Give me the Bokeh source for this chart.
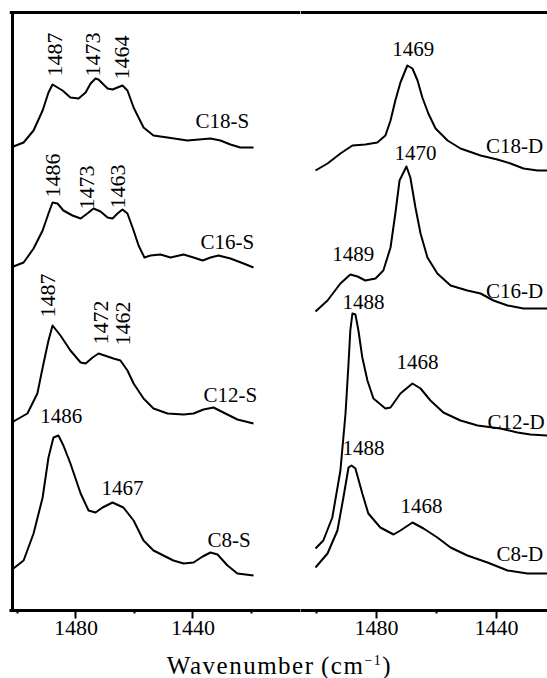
import math
from bokeh.plotting import figure
from bokeh.models import Range1d, FixedTicker, LinearAxis, Div
from bokeh.layouts import row, column
from bokeh.core.properties import value
from bokeh.embed import file_html
from bokeh.resources import INLINE

FONT = "Liberation Serif"

# ---------------- S samples (left panel): wavenumber (cm-1) and stacked absorbance (a.u.)
c18s_wn = [1501.4, 1497.9, 1494.5, 1491.4, 1489.4, 1488.0, 1484.6, 1481.9, 1479.1, 1476.7, 1475.0, 1473.3,
           1472.3, 1469.2, 1467.5, 1464.1, 1462.4, 1460.3, 1456.9, 1453.5, 1448.7, 1441.9, 1434.0, 1430.6,
           1427.2, 1423.8, 1419.3]
c18s_y = [4.64, 4.68, 4.80, 5.00, 5.18, 5.26, 5.20, 5.13, 5.12, 5.18, 5.27, 5.32,
          5.31, 5.22, 5.21, 5.25, 5.20, 5.03, 4.83, 4.75, 4.73, 4.70, 4.72, 4.70,
          4.66, 4.63, 4.63]

c16s_wn = [1501.4, 1497.9, 1494.5, 1491.4, 1489.4, 1488.0, 1486.3, 1484.3, 1481.2, 1478.4, 1476.1, 1474.0,
           1471.6, 1469.2, 1467.5, 1465.8, 1464.1, 1462.4, 1460.3, 1458.6, 1456.6, 1454.5, 1451.1, 1447.7,
           1443.2, 1439.8, 1436.7, 1434.0, 1431.3, 1427.2, 1422.7, 1419.3]
c16s_y = [3.44, 3.48, 3.62, 3.80, 3.97, 4.08, 4.07, 4.00, 3.95, 3.92, 3.97, 4.02,
          3.99, 3.93, 3.92, 3.97, 4.01, 3.97, 3.80, 3.65, 3.53, 3.55, 3.56, 3.53,
          3.56, 3.53, 3.50, 3.53, 3.55, 3.52, 3.47, 3.43]

c12s_wn = [1501.4, 1496.6, 1493.2, 1491.1, 1489.4, 1488.0, 1485.3, 1481.9, 1478.4, 1476.7, 1474.3, 1472.3,
           1469.2, 1467.2, 1464.8, 1462.4, 1460.3, 1456.9, 1453.5, 1448.7, 1443.2, 1439.8, 1436.4, 1433.0,
           1429.6, 1424.8, 1419.3]
c12s_y = [1.89, 1.97, 2.17, 2.47, 2.70, 2.85, 2.75, 2.60, 2.48, 2.47, 2.53, 2.57,
          2.54, 2.52, 2.50, 2.40, 2.27, 2.12, 2.02, 1.97, 1.96, 1.97, 2.01, 2.03,
          1.98, 1.91, 1.87]

c8s_wn = [1501.4, 1497.9, 1494.5, 1491.4, 1489.4, 1487.7, 1486.0, 1484.3, 1481.9, 1478.4, 1475.7, 1473.3,
          1470.9, 1467.5, 1463.8, 1460.3, 1456.9, 1453.5, 1450.1, 1446.7, 1443.2, 1439.8, 1436.7, 1434.0,
          1431.6, 1428.2, 1424.8, 1419.3]
c8s_y = [0.42, 0.50, 0.77, 1.13, 1.53, 1.73, 1.75, 1.65, 1.47, 1.17, 1.00, 0.98,
         1.03, 1.08, 1.03, 0.90, 0.70, 0.60, 0.55, 0.50, 0.47, 0.48, 0.54, 0.58,
         0.56, 0.45, 0.37, 0.35]

# ---------------- D samples (right panel)
c18d_wn = [1500.3, 1496.3, 1492.0, 1488.0, 1483.7, 1479.7, 1477.0, 1475.3, 1473.7, 1472.0, 1469.7, 1468.0,
           1466.3, 1464.7, 1462.7, 1460.3, 1456.3, 1452.0, 1445.3, 1439.7, 1435.3, 1431.0, 1426.3, 1423.0]
c18d_y = [4.40, 4.47, 4.57, 4.65, 4.66, 4.68, 4.75, 4.90, 5.10, 5.28, 5.45, 5.42,
          5.30, 5.13, 4.97, 4.82, 4.70, 4.62, 4.55, 4.51, 4.47, 4.42, 4.40, 4.40]

c16d_wn = [1500.3, 1496.3, 1492.0, 1488.7, 1486.3, 1483.7, 1480.3, 1477.7, 1475.3, 1473.7, 1472.3, 1470.0,
           1468.7, 1467.0, 1465.3, 1463.0, 1459.7, 1455.3, 1449.7, 1445.3, 1441.0, 1436.3, 1431.0, 1423.0]
c16d_y = [2.99, 3.10, 3.27, 3.36, 3.34, 3.30, 3.32, 3.40, 3.63, 3.97, 4.30, 4.44,
          4.33, 4.03, 3.77, 3.53, 3.37, 3.25, 3.20, 3.17, 3.10, 3.05, 3.02, 3.02]

c12d_wn = [1500.3, 1497.7, 1494.7, 1492.0, 1490.3, 1489.3, 1488.7, 1488.0, 1487.0, 1486.0, 1484.7, 1483.0,
           1481.0, 1477.0, 1475.3, 1472.0, 1468.0, 1465.3, 1462.0, 1457.7, 1452.0, 1446.3, 1438.7, 1433.0,
           1428.7, 1423.0]
c12d_y = [0.62, 0.70, 0.93, 1.40, 1.97, 2.47, 2.80, 2.97, 2.96, 2.80, 2.53, 2.30,
          2.12, 2.02, 2.03, 2.17, 2.27, 2.22, 2.10, 1.98, 1.90, 1.85, 1.82, 1.78,
          1.76, 1.75]

c8d_wn = [1500.3, 1496.3, 1493.0, 1491.0, 1489.3, 1488.3, 1487.0, 1484.7, 1482.7, 1478.7, 1474.3, 1472.0,
          1468.0, 1464.3, 1459.7, 1455.3, 1449.7, 1443.0, 1436.3, 1429.7, 1423.0]
c8d_y = [0.43, 0.57, 0.80, 1.13, 1.43, 1.45, 1.42, 1.17, 0.97, 0.83, 0.76, 0.80,
         0.88, 0.82, 0.73, 0.63, 0.55, 0.48, 0.40, 0.37, 0.37]

# ---------------- annotations
left_peak_text = ["1487", "1473", "1464", "1486", "1473", "1463", "1487", "1472", "1462"]
left_peak_x = [1487.3, 1474.3, 1464.4, 1488.0, 1476.1, 1465.5, 1489.7, 1471.6, 1463.8]
left_peak_y = [5.56, 5.56, 5.53, 4.35, 4.23, 4.24, 3.15, 2.88, 2.87]

left_flat_text = ["1486", "1467"]
left_flat_x = [1485.0, 1464.1]
left_flat_y = [1.95, 1.23]

left_names = ["C18-S", "C16-S", "C12-S", "C8-S"]
left_names_x = [1439.1, 1437.4, 1436.4, 1435.0]
left_names_y = [4.90, 3.69, 2.16, 0.71]

right_peak_text = ["1469", "1470", "1489", "1488", "1468", "1488", "1468"]
right_peak_x = [1467.7, 1467.0, 1487.7, 1484.3, 1466.3, 1484.3, 1465.0]
right_peak_y = [5.62, 4.58, 3.57, 3.09, 2.49, 1.63, 1.05]

right_names = ["C18-D", "C16-D", "C12-D", "C8-D"]
right_names_x = [1443.5, 1443.5, 1443.0, 1440.0]
right_names_y = [4.65, 3.20, 1.89, 0.57]

major_ticks = [1480, 1440]
minor_ticks = [1500, 1460, 1420]

# frame geometry (axis units)
Y_TOP = 5.98              # top border of the frame
X_LEFT = 1501.7           # left border of the S panel
S_RANGE = (X_LEFT + 3 / 2.925, X_LEFT - 288 / 2.925)
D_RANGE = (1505.3, 1423.0)

H = 646


def base_fig(width, xr, border_left):
    p = figure(width=width, height=H, x_range=Range1d(*xr), y_range=Range1d(0, 6.0),
               output_backend="svg", toolbar_location=None,
               x_axis_location=None, y_axis_location=None,
               min_border_left=border_left, min_border_right=0,
               min_border_top=10, min_border_bottom=36)
    p.grid.visible = False
    p.outline_line_color = None
    p.background_fill_color = "white"
    p.border_fill_color = "white"
    # bottom axis
    ax = LinearAxis(ticker=FixedTicker(ticks=major_ticks, minor_ticks=minor_ticks))
    ax.axis_line_width = 3
    ax.axis_line_color = "black"
    ax.major_tick_line_width = 2
    ax.major_tick_out = 8
    ax.major_tick_in = 0
    ax.minor_tick_line_width = 2
    ax.minor_tick_out = 3
    ax.minor_tick_in = 0
    ax.major_label_text_font = FONT
    ax.major_label_text_font_size = "22px"
    ax.major_label_text_color = "black"
    ax.major_label_standoff = 2
    p.add_layout(ax, "below")
    # top border of the frame across the full panel width
    p.line(x=list(xr), y=[Y_TOP, Y_TOP], line_color="black", line_width=3)
    return p


# left panel (seam with the right panel placed in the empty gap)
pl = base_fig(300, S_RANGE, 9)
pl.line(x=[X_LEFT, X_LEFT], y=[0, Y_TOP], line_color="black", line_width=3)

for wn, yy in [(c18s_wn, c18s_y), (c16s_wn, c16s_y), (c12s_wn, c12s_y), (c8s_wn, c8s_y)]:
    pl.line(wn, yy, line_color="black", line_width=2, line_join="round")

pl.text(x=left_peak_x, y=left_peak_y, text=left_peak_text, angle=math.pi / 2,
        text_font=value(FONT), text_font_size=value("22px"), text_align="center",
        text_baseline="middle", text_color="black")
pl.text(x=left_flat_x, y=left_flat_y, text=left_flat_text,
        text_font=value(FONT), text_font_size=value("21px"), text_align="center",
        text_baseline="middle", text_color="black")
pl.text(x=left_names_x, y=left_names_y, text=left_names,
        text_font=value(FONT), text_font_size=value("21px"), text_align="left",
        text_baseline="middle", text_color="black")

# right panel
pr = base_fig(247, D_RANGE, 0)
for wn, yy in [(c18d_wn, c18d_y), (c16d_wn, c16d_y), (c12d_wn, c12d_y), (c8d_wn, c8d_y)]:
    pr.line(wn, yy, line_color="black", line_width=2, line_join="round")

pr.text(x=right_peak_x, y=right_peak_y, text=right_peak_text,
        text_font=value(FONT), text_font_size=value("21px"), text_align="center",
        text_baseline="middle", text_color="black")
pr.text(x=right_names_x, y=right_names_y, text=right_names,
        text_font=value(FONT), text_font_size=value("21px"), text_align="left",
        text_baseline="middle", text_color="black")

title = Div(text="Wavenumber&#8201;(cm<sup style='font-size:14px'>&#8722;1</sup>)",
            width=547, height=678 - H, margin=(0, 0, 0, 0),
            styles={"font-family": FONT, "font-size": "25px", "letter-spacing": "1.5px",
                    "text-align": "center", "padding-left": "12px", "line-height": "30px",
                    "color": "black", "box-sizing": "border-box", "width": "547px"})

layout = column(row(pl, pr, spacing=0), title, spacing=0)

with open("out.html", "w") as f:
    f.write(file_html(layout, INLINE))
